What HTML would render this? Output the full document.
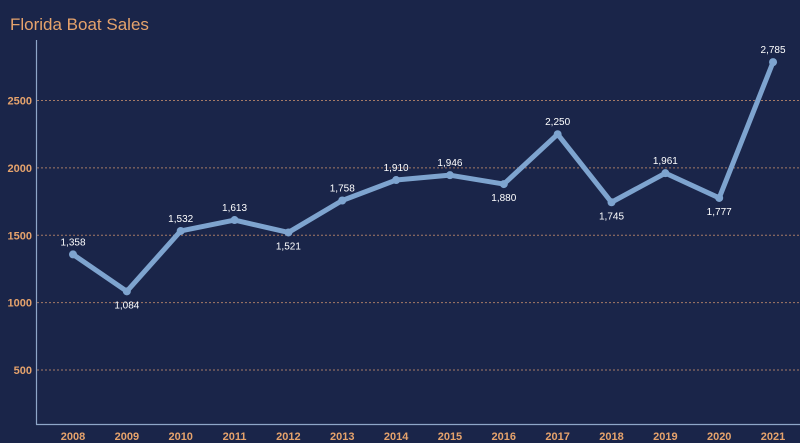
<!DOCTYPE html>
<html><head><meta charset="utf-8"><style>
html,body{margin:0;padding:0;background:#1a2549;}
svg{display:block;font-family:"Liberation Sans",sans-serif;}
</style></head><body>
<svg width="800" height="443" viewBox="0 0 800 443">
<rect width="800" height="443" fill="#1a2549"/>
<text x="10" y="30" fill="#e6a36c" font-size="17">Florida Boat Sales</text>
<g id="grid"></g>
<line x1="36.5" y1="40" x2="36.5" y2="424.5" stroke="#8fa6c8" stroke-width="1.2"/>
<line x1="36" y1="424.5" x2="800" y2="424.5" stroke="#8fa6c8" stroke-width="1.2"/>
<g id="xl"></g><g id="series"></g>
</svg>
<script>
const years=["2008","2009","2010","2011","2012","2013","2014","2015","2016","2017","2018","2019","2020","2021"];
const sales=[1358,1084,1532,1613,1521,1758,1910,1946,1880,2250,1745,1961,1777,2785];
const yTicks=[500,1000,1500,2000,2500];
const labelAbove=[true,false,true,true,false,true,true,true,false,true,false,true,false,true];
const NS="http://www.w3.org/2000/svg";
function y(v){return 437.4-v*0.13475;}
function x(i){return 73+i*53.85;}
function mk(t,a,p){const e=document.createElementNS(NS,t);for(const k in a)e.setAttribute(k,a[k]);p.appendChild(e);return e;}
const grid=document.getElementById('grid'),xl=document.getElementById('xl'),s=document.getElementById('series');
yTicks.forEach(v=>{
 const l=mk('line',{x1:37,x2:800,y1:y(v),y2:y(v),stroke:'#a57a66','stroke-width':1,'stroke-dasharray':'2,2'},grid);
 
 
 const t=mk('text',{x:32,y:y(v)+4,'text-anchor':'end',fill:'#e6a36c','font-size':11,'font-weight':'bold'},grid);
 t.textContent=v;
 
 
});
years.forEach((yr,i)=>{
 const t=mk('text',{x:x(i),y:440,'text-anchor':'middle',fill:'#e6a36c','font-size':11,'font-weight':'bold'},xl);
 t.textContent=yr;
 
 
});
const pts=sales.map((v,i)=>x(i)+','+y(v)).join(' ');
const pl=mk('polyline',{points:pts,fill:'none',stroke:'#7ea4cf','stroke-width':5,'stroke-linejoin':'round','stroke-linecap':'round'},s);


sales.forEach((v,i)=>{
 const c=mk('circle',{cx:x(i),cy:y(v),r:4,fill:'#7ea4cf'},s);
 
 
 const t=mk('text',{x:x(i),y:labelAbove[i]?y(v)-9:y(v)+17,'text-anchor':'middle',fill:'#ffffff','font-size':10},s);
 t.textContent=v.toLocaleString('en-US');
 
 
});
</script>
</body></html>
